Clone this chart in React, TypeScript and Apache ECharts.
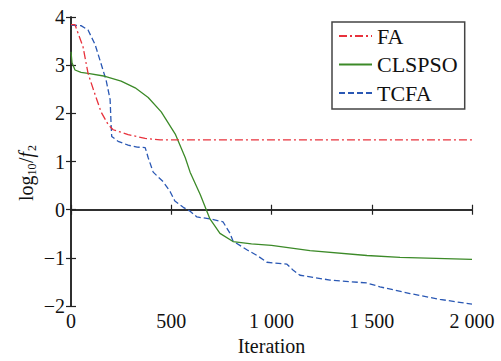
import React, { useEffect, useRef } from "react";
import * as echarts from "echarts";

const xTicks = ["0", "500", "1 000", "1 500", "2 000"];
const yTicks = ["−2", "−1", "0", "1", "2", "3", "4"];
const seriesNames = ["FA", "CLSPSO", "TCFA"];

const faIter = [0, 20, 60, 85, 120, 150, 185, 210, 285, 370, 445, 600, 1000, 1500, 2000];
const faVal = [3.84, 3.84, 3.38, 2.83, 2.39, 2.03, 1.77, 1.66, 1.56, 1.48, 1.45, 1.45, 1.45, 1.45, 1.45];

const clIter = [0, 5, 20, 50, 85, 170, 250, 320, 385, 450, 520, 570, 594, 645, 693, 743, 808, 900, 1000, 1192, 1476, 1641, 2000];
const clVal = [3.28, 3.05, 2.9, 2.85, 2.83, 2.77, 2.67, 2.53, 2.33, 2.03, 1.57, 1.08, 0.78, 0.31, -0.19, -0.49, -0.66, -0.71, -0.74, -0.85, -0.95, -0.99, -1.03];

const tcIter = [0, 50, 85, 120, 150, 175, 195, 200, 203, 235, 285, 330, 370, 385, 410, 460, 494, 518, 560, 594, 628, 693, 758, 793, 808, 877, 928, 977, 1077, 1107, 1142, 1292, 1476, 1541, 1691, 1840, 2000];
const tcVal = [3.83, 3.82, 3.73, 3.43, 3.03, 2.69, 2.29, 1.77, 1.52, 1.42, 1.34, 1.3, 1.29, 1.08, 0.78, 0.58, 0.38, 0.18, 0.05, -0.03, -0.15, -0.19, -0.25, -0.49, -0.65, -0.83, -0.95, -1.09, -1.13, -1.25, -1.36, -1.46, -1.52, -1.6, -1.74, -1.86, -1.96];

const colors = ["#e8323c", "#3c8a28", "#2a58b4"];
const dashes: any[] = [[8, 3, 2, 3], "solid", [6, 3]];

const zip = (a: number[], b: number[]) => a.map((x, i) => [x, b[i]]);
const FONT = "'Liberation Serif', 'Times New Roman', serif";

export default function App() {
  const ref = useRef<HTMLDivElement>(null);
  useEffect(() => {
    if (!ref.current) return;
    const chart = echarts.init(ref.current, null, { renderer: "svg" });
    const dataSets = [zip(faIter, faVal), zip(clIter, clVal), zip(tcIter, tcVal)];
    const axisLine = { lineStyle: { color: "#222", width: 1.5 } };
    const tick = { inside: true, length: 5, lineStyle: { color: "#222", width: 1.2 } };
    const xLabel = (v: number) => xTicks[Math.round(v / 500)];
    const yLabel = (v: number) => yTicks[Math.round(v + 2)];
    chart.setOption({
      animation: false,
      backgroundColor: "#fff",
      grid: { left: 71, right: 29, top: 17, bottom: 46 },
      xAxis: [
        {
          type: "value", min: 0, max: 2000, interval: 500, position: "bottom",
          axisLine, axisTick: tick, splitLine: { show: false },
          axisLabel: { formatter: xLabel, fontFamily: FONT, fontSize: 20, color: "#111", margin: 5 },
          name: "Iteration", nameLocation: "middle", nameGap: 24,
          nameTextStyle: { fontFamily: FONT, fontSize: 20, color: "#111" },
        },
        {
          type: "value", min: 0, max: 2000, interval: 500, position: "top",
          axisLine, axisTick: tick, splitLine: { show: false }, axisLabel: { show: false },
        },
      ],
      yAxis: [
        {
          type: "value", min: -2, max: 4, interval: 1, position: "left",
          axisLine: { show: true, ...axisLine }, axisTick: { show: true, ...tick }, splitLine: { show: false },
          axisLabel: { formatter: yLabel, fontFamily: FONT, fontSize: 20, color: "#111", margin: 6 },
        },
        {
          type: "value", min: -2, max: 4, interval: 1, position: "right",
          axisLine: { show: true, ...axisLine }, axisTick: { show: true, ...tick }, splitLine: { show: false },
          axisLabel: { show: false },
        },
      ],
      legend: {
        orient: "vertical", left: 332, top: 22,
        padding: [2, 7, 4, 6], itemGap: 4.5, itemWidth: 33, itemHeight: 14,
        borderColor: "#444", borderWidth: 1.5, backgroundColor: "#fff",
        itemStyle: { opacity: 0 },
        textStyle: { fontFamily: FONT, fontSize: 22, color: "#111", lineHeight: 24 },
        data: seriesNames,
      },
      series: seriesNames.map((n, i) => ({
        name: n, type: "line", data: dataSets[i], symbol: "none", smooth: false,
        xAxisIndex: 0, yAxisIndex: 0,
        lineStyle: { color: colors[i], width: 1.3, type: dashes[i] },
        itemStyle: { color: colors[i] },
        z: 3 - i,
      })),
      graphic: [
        {
          type: "group", x: 26, y: 201, rotation: Math.PI / 2,
          children: [
            { type: "text", x: 0, y: 0, style: { text: "log", font: `20px ${FONT}`, fill: "#111", verticalAlign: "middle" } },
            { type: "text", x: 25.5, y: 6, style: { text: "10", font: `12px ${FONT}`, fill: "#111", verticalAlign: "middle" } },
            { type: "text", x: 38, y: 0, style: { text: "/", font: `20px ${FONT}`, fill: "#111", verticalAlign: "middle" } },
            { type: "text", x: 43.5, y: 0, style: { text: "f", font: `italic 20px ${FONT}`, fill: "#111", verticalAlign: "middle" } },
            { type: "text", x: 50, y: 6, style: { text: "2", font: `12px ${FONT}`, fill: "#111", verticalAlign: "middle" } },
          ],
        },
      ],
    });
    return () => chart.dispose();
  }, []);
  return <div ref={ref} style={{ width: 501, height: 361, position: "absolute", left: 0, top: 0 }} />;
}
